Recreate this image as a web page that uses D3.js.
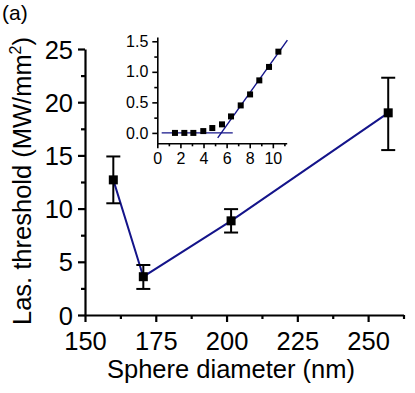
<!DOCTYPE html>
<html><head><meta charset="utf-8">
<script src="https://cdn.jsdelivr.net/npm/d3@7"></script>
<style>
html,body{margin:0;padding:0;background:#fff;}
svg{display:block;font-family:"Liberation Sans",Arial,sans-serif;}
</style></head>
<body><svg id="c" width="415" height="393"></svg>
<script>
// Main chart data
const diameters = [160, 170.6, 201.6, 257.1];
const thresholds = [12.7, 3.6, 8.85, 19.0];
const errLow = [10.5, 2.45, 7.75, 15.5];
const errHigh = [14.9, 4.7, 9.95, 22.3];
const xTicks = [150, 175, 200, 225, 250];
const xMinor = [162.5, 187.5, 212.5, 237.5, 262.5];
const yTicks = [0, 5, 10, 15, 20, 25];
const yMinor = [2.5, 7.5, 12.5, 17.5, 22.5];

// Inset data
const pump = [1.53, 2.34, 3.12, 3.98, 4.76, 5.6, 6.38, 7.22, 8.03, 8.83, 9.67, 10.48];
const intensity = [0, 0, 0, 0.03, 0.08, 0.14, 0.27, 0.45, 0.63, 0.86, 1.08, 1.33];
const fitFlatX = [0.38, 6.53];
const fitFlatY = [0, 0];
const fitSteepX = [5.23, 11.26];
const fitSteepY = [-0.08, 1.52];
const insetXTicks = [0, 2, 4, 6, 8, 10];
const insetXMinor = [1, 3, 5, 7, 9, 11];
const insetYTicks = [0.0, 0.5, 1.0, 1.5];
const insetYMinor = [0.25, 0.75, 1.25];

const svg = d3.select("#c");
const navy = "#14148a";

// main scales
const x = d3.scaleLinear().domain([150, 262.5]).range([85, 403.5]);
const y = d3.scaleLinear().domain([0, 25]).range([315, 49]);

const g = svg.append("g");
// axes
function drawAxis(sel, axis, width){
  sel.call(axis);
  sel.select(".domain").attr("stroke","#000").attr("stroke-width",width);
  sel.selectAll(".tick line").attr("stroke","#000").attr("stroke-width",width);
  sel.selectAll("text").attr("fill","#000");
}
const xAxis = g.append("g").attr("transform",`translate(0,${y(0)})`);
drawAxis(xAxis, d3.axisBottom(x).tickValues(xTicks).tickSize(7).tickSizeOuter(0).tickPadding(10), 2.2);
xAxis.selectAll("text").attr("font-size",25.5);
const xMinAx = g.append("g").attr("transform",`translate(0,${y(0)})`);
drawAxis(xMinAx, d3.axisBottom(x).tickValues(xMinor).tickSize(4).tickSizeOuter(0).tickFormat(""), 2.2);
xMinAx.select(".domain").remove();

const yAxis = g.append("g").attr("transform",`translate(${x(150)},0)`);
drawAxis(yAxis, d3.axisLeft(y).tickValues(yTicks).tickSize(7).tickSizeOuter(0).tickPadding(5), 2.2);
yAxis.selectAll("text").attr("font-size",25.5).attr("dy","0.36em");
const yMinAx = g.append("g").attr("transform",`translate(${x(150)},0)`);
drawAxis(yMinAx, d3.axisLeft(y).tickValues(yMinor).tickSize(4).tickSizeOuter(0).tickFormat(""), 2.2);
yMinAx.select(".domain").remove();

// line
const pts = diameters.map((d,i)=>({x:d,y:thresholds[i],lo:errLow[i],hi:errHigh[i]}));
g.append("path").datum(pts)
  .attr("d", d3.line().x(d=>x(d.x)).y(d=>y(d.y)))
  .attr("fill","none").attr("stroke",navy).attr("stroke-width",2);
// error bars
const eb = g.selectAll(".eb").data(pts).enter().append("g");
eb.append("line").attr("x1",d=>x(d.x)).attr("x2",d=>x(d.x)).attr("y1",d=>y(d.lo)).attr("y2",d=>y(d.hi)).attr("stroke","#000").attr("stroke-width",2);
eb.append("line").attr("x1",d=>x(d.x)-7).attr("x2",d=>x(d.x)+7).attr("y1",d=>y(d.lo)).attr("y2",d=>y(d.lo)).attr("stroke","#000").attr("stroke-width",2);
eb.append("line").attr("x1",d=>x(d.x)-7).attr("x2",d=>x(d.x)+7).attr("y1",d=>y(d.hi)).attr("y2",d=>y(d.hi)).attr("stroke","#000").attr("stroke-width",2);
g.selectAll(".sq").data(pts).enter().append("rect")
  .attr("x",d=>x(d.x)-4.5).attr("y",d=>y(d.y)-4.5).attr("width",9).attr("height",9).attr("fill","#000");

// labels
svg.append("text").attr("x",231).attr("y",378).attr("text-anchor","middle").attr("font-size",25.5).text("Sphere diameter (nm)");
const yl = svg.append("text").attr("transform","translate(31,181) rotate(-90)").attr("text-anchor","middle").attr("font-size",25.5);
yl.append("tspan").text("Las. threshold (MW/mm");
yl.append("tspan").attr("font-size",16).attr("dy",-10).text("2");
yl.append("tspan").attr("dy",10).text(")");
svg.append("text").attr("x",2).attr("y",20).attr("font-size",21).text("(a)");

// inset
const ix = d3.scaleLinear().domain([0, 11.2]).range([157.3, 286.7]);
const iy = d3.scaleLinear().domain([-0.17, 1.57]).range([143.3, 37]);
const ig = svg.append("g");
const ixAx = ig.append("g").attr("transform",`translate(0,${iy(-0.17)})`);
drawAxis(ixAx, d3.axisBottom(ix).tickValues(insetXTicks).tickSize(5).tickSizeOuter(0).tickPadding(4), 1.6);
ixAx.selectAll("text").attr("font-size",16);
const ixMin = ig.append("g").attr("transform",`translate(0,${iy(-0.17)})`);
drawAxis(ixMin, d3.axisBottom(ix).tickValues(insetXMinor).tickSize(3).tickSizeOuter(0).tickFormat(""), 1.6);
ixMin.select(".domain").remove();
const iyAx = ig.append("g").attr("transform",`translate(${ix(0)},0)`);
drawAxis(iyAx, d3.axisLeft(iy).tickValues(insetYTicks).tickSize(5).tickSizeOuter(0).tickPadding(4).tickFormat(d3.format(".1f")), 1.6);
iyAx.selectAll("text").attr("font-size",16);
const iyMin = ig.append("g").attr("transform",`translate(${ix(0)},0)`);
drawAxis(iyMin, d3.axisLeft(iy).tickValues(insetYMinor).tickSize(3).tickSizeOuter(0).tickFormat(""), 1.6);
iyMin.select(".domain").remove();

ig.append("line").attr("x1",ix(fitFlatX[0])).attr("x2",ix(fitFlatX[1])).attr("y1",iy(fitFlatY[0])).attr("y2",iy(fitFlatY[1])).attr("stroke",navy).attr("stroke-width",1.4);
ig.append("line").attr("x1",ix(fitSteepX[0])).attr("x2",ix(fitSteepX[1])).attr("y1",iy(fitSteepY[0])).attr("y2",iy(fitSteepY[1])).attr("stroke",navy).attr("stroke-width",1.4);
ig.selectAll(".isq").data(pump.map((p,i)=>({x:p,y:intensity[i]}))).enter().append("rect")
  .attr("x",d=>ix(d.x)-3).attr("y",d=>iy(d.y)-3).attr("width",6).attr("height",6).attr("fill","#000");
</script></body></html>
